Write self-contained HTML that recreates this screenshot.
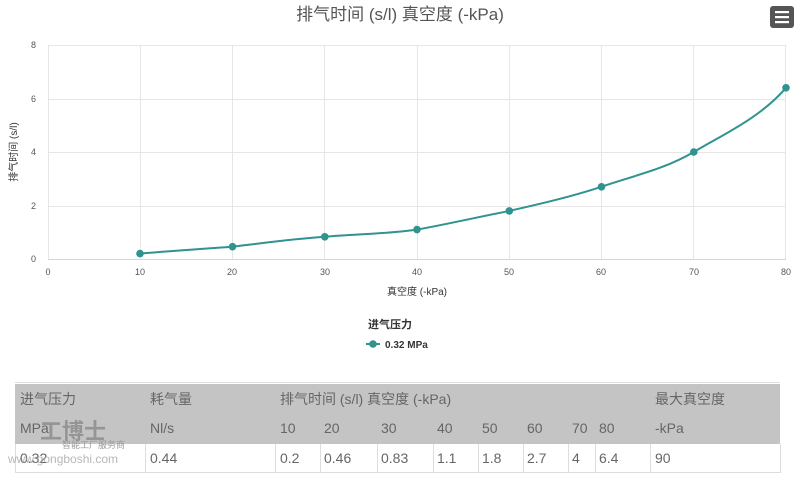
<!DOCTYPE html>
<html><head><meta charset="utf-8"><style>
body{margin:0;width:800px;height:479px;background:#fff;font-family:"Liberation Sans","Noto Sans CJK SC",sans-serif;overflow:hidden;position:relative}
.t{position:absolute;white-space:nowrap}
</style></head><body>
<svg width="800" height="380" style="position:absolute;left:0;top:0" font-family="Liberation Sans, Noto Sans CJK SC, sans-serif">
<text x="400" y="20" text-anchor="middle" font-size="17" fill="#555">排气时间 (s/l) 真空度 (-kPa)</text>
<rect x="770" y="6" width="24" height="22" rx="3" fill="#555"/>
<rect x="775" y="11" width="14" height="2.2" fill="#fff"/><rect x="775" y="16" width="14" height="2.2" fill="#fff"/><rect x="775" y="21" width="14" height="2.2" fill="#fff"/>
<g stroke="#e6e6e6" stroke-width="1">
<line x1="48" y1="45.5" x2="786" y2="45.5"/><line x1="48" y1="99.5" x2="786" y2="99.5"/><line x1="48" y1="152.5" x2="786" y2="152.5"/><line x1="48" y1="206.5" x2="786" y2="206.5"/>
<line x1="48.5" y1="45" x2="48.5" y2="259"/><line x1="140.5" y1="45" x2="140.5" y2="259"/><line x1="232.5" y1="45" x2="232.5" y2="259"/><line x1="324.5" y1="45" x2="324.5" y2="259"/><line x1="417.5" y1="45" x2="417.5" y2="259"/><line x1="509.5" y1="45" x2="509.5" y2="259"/><line x1="601.5" y1="45" x2="601.5" y2="259"/><line x1="693.5" y1="45" x2="693.5" y2="259"/><line x1="785.5" y1="45" x2="785.5" y2="259"/>
</g>
<line x1="48" y1="259.5" x2="786" y2="259.5" stroke="#ccd6eb"/>
<g font-size="9" fill="#555" text-anchor="end">
<text x="36" y="48">8</text><text x="36" y="102">6</text><text x="36" y="155">4</text><text x="36" y="209">2</text><text x="36" y="262">0</text></g>
<g font-size="9" fill="#555" text-anchor="middle">
<text x="48" y="275">0</text><text x="140" y="275">10</text><text x="232" y="275">20</text><text x="325" y="275">30</text><text x="417" y="275">40</text><text x="509" y="275">50</text><text x="601" y="275">60</text><text x="694" y="275">70</text><text x="786" y="275">80</text></g>
<text x="417" y="295" font-size="10" fill="#333" text-anchor="middle">真空度 (-kPa)</text>
<text transform="translate(17,152) rotate(-90)" font-size="10" fill="#333" text-anchor="middle">排气时间 (s/l)</text>
<path d="M140,253.6 C170,251 200,249 232.5,246.7 C263,243 293,239 324.8,236.8 C356,234 386,234 417,229.6 C448,224 478,217 509.3,210.9 C540,204 570,197 601.5,186.8 C632,176 663,170 693.8,152 C724,134 760,118 786,87.8" fill="none" stroke="#2f9390" stroke-width="2"/>
<g fill="#2f9390"><circle cx="140" cy="253.6" r="3.8"/><circle cx="232.5" cy="246.7" r="3.8"/><circle cx="324.8" cy="236.8" r="3.8"/><circle cx="417" cy="229.6" r="3.8"/><circle cx="509.3" cy="210.9" r="3.8"/><circle cx="601.5" cy="186.8" r="3.8"/><circle cx="693.8" cy="152" r="3.8"/><circle cx="786" cy="87.8" r="3.8"/></g>
<text x="390" y="328" font-size="11" font-weight="bold" fill="#333" text-anchor="middle">进气压力</text>
<line x1="366" y1="344" x2="380" y2="344" stroke="#2f9390" stroke-width="2"/><circle cx="373" cy="344" r="3.8" fill="#2f9390"/>
<text x="385" y="348" font-size="10" font-weight="bold" fill="#333">0.32 MPa</text>
</svg>
<div style="position:absolute;left:15px;top:384px;width:765px;height:60px;background:#c4c4c4"></div>
<div style="position:absolute;left:15px;top:444px;width:764px;height:28px;border:1px solid #ddd;border-top:none"></div>
<div style="position:absolute;left:15px;top:382px;width:765px;height:1px;background:#ddd"></div>
<svg width="800" height="479" style="position:absolute;left:0;top:0"><g stroke="#ddd">
<line x1="145.5" y1="444" x2="145.5" y2="472"/><line x1="275.5" y1="444" x2="275.5" y2="472"/><line x1="320.5" y1="444" x2="320.5" y2="472"/><line x1="377.5" y1="444" x2="377.5" y2="472"/><line x1="433.5" y1="444" x2="433.5" y2="472"/><line x1="478.5" y1="444" x2="478.5" y2="472"/><line x1="523.5" y1="444" x2="523.5" y2="472"/><line x1="568.5" y1="444" x2="568.5" y2="472"/><line x1="595.5" y1="444" x2="595.5" y2="472"/><line x1="650.5" y1="444" x2="650.5" y2="472"/></g></svg>
<div style="font-size:14px;color:#666">
<span class="t" style="left:20px;top:389px">进气压力</span><span class="t" style="left:150px;top:389px">耗气量</span><span class="t" style="left:280px;top:389px">排气时间 (s/l) 真空度 (-kPa)</span><span class="t" style="left:655px;top:389px">最大真空度</span>
<span class="t" style="left:20px;top:420px">MPa</span><span class="t" style="left:150px;top:420px">Nl/s</span>
<span class="t" style="left:280px;top:420px">10</span><span class="t" style="left:324px;top:420px">20</span><span class="t" style="left:381px;top:420px">30</span><span class="t" style="left:437px;top:420px">40</span><span class="t" style="left:482px;top:420px">50</span><span class="t" style="left:527px;top:420px">60</span><span class="t" style="left:572px;top:420px">70</span><span class="t" style="left:599px;top:420px">80</span><span class="t" style="left:655px;top:420px">-kPa</span>
<span class="t" style="left:20px;top:450px">0.32</span><span class="t" style="left:150px;top:450px">0.44</span>
<span class="t" style="left:280px;top:450px">0.2</span><span class="t" style="left:324px;top:450px">0.46</span><span class="t" style="left:381px;top:450px">0.83</span><span class="t" style="left:437px;top:450px">1.1</span><span class="t" style="left:482px;top:450px">1.8</span><span class="t" style="left:527px;top:450px">2.7</span><span class="t" style="left:572px;top:450px">4</span><span class="t" style="left:599px;top:450px">6.4</span><span class="t" style="left:655px;top:450px">90</span>
</div>
<span class="t" style="left:40px;top:414px;font-size:22px;color:#777;font-weight:bold;opacity:.6">工博士</span>
<span class="t" style="left:62px;top:438px;font-size:9px;color:#999">智能工厂服务商</span>
<span class="t" style="left:8px;top:452px;font-size:12px;color:#999;opacity:.7">www.gongboshi.com</span>
</body></html>
